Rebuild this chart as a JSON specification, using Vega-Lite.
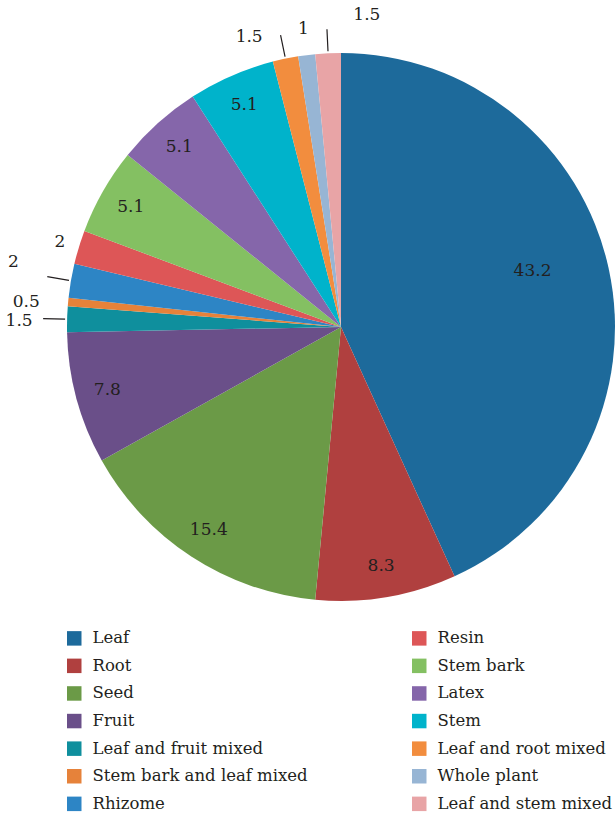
{
  "$schema": "https://vega.github.io/schema/vega-lite/v6.json",
  "width": 550,
  "height": 548,
  "autosize": "none",
  "padding": {"left": 66, "top": 53, "right": 0, "bottom": 217},
  "background": "white",
  "config": {"view": {"stroke": null}, "font": "DejaVu Serif"},
  "data": {
    "values": [
      {"category": "Leaf", "value": 43.2, "order": 1},
      {"category": "Root", "value": 8.3, "order": 2},
      {"category": "Seed", "value": 15.4, "order": 3},
      {"category": "Fruit", "value": 7.8, "order": 4},
      {"category": "Leaf and fruit mixed", "value": 1.5, "order": 5},
      {"category": "Stem bark and leaf mixed", "value": 0.5, "order": 6},
      {"category": "Rhizome", "value": 2, "order": 7},
      {"category": "Resin", "value": 2, "order": 8},
      {"category": "Stem bark", "value": 5.1, "order": 9},
      {"category": "Latex", "value": 5.1, "order": 10},
      {"category": "Stem", "value": 5.1, "order": 11},
      {"category": "Leaf and root mixed", "value": 1.5, "order": 12},
      {"category": "Whole plant", "value": 1, "order": 13},
      {"category": "Leaf and stem mixed", "value": 1.5, "order": 14}
    ]
  },
  "encoding": {
    "theta": {"field": "value", "type": "quantitative", "stack": true},
    "order": {"field": "order", "type": "quantitative", "sort": "ascending"}
  },
  "layer": [
    {
      "mark": {"type": "arc", "radius": 274},
      "encoding": {
        "color": {
          "field": "category",
          "type": "nominal",
          "scale": {
            "domain": ["Leaf", "Root", "Seed", "Fruit", "Leaf and fruit mixed", "Stem bark and leaf mixed", "Rhizome", "Resin", "Stem bark", "Latex", "Stem", "Leaf and root mixed", "Whole plant", "Leaf and stem mixed"],
            "range": ["#1d6a9b", "#b0403f", "#6b9a47", "#6a4f89", "#0f8f9d", "#e6823a", "#2d85c5", "#dd5657", "#84c062", "#8566aa", "#00b3cb", "#f28d3e", "#97b5d4", "#e8a4a6"]
          },
          "legend": {
            "title": null,
            "orient": "none",
            "legendX": 0,
            "legendY": 577,
            "columns": 2,
            "columnPadding": 103,
            "rowPadding": 10.6,
            "symbolType": "square",
            "symbolSize": 210,
            "symbolStrokeWidth": 0,
            "labelFontSize": 16.5,
            "labelFont": "DejaVu Serif",
            "labelColor": "#231f20",
            "labelOffset": 10,
            "labelLimit": 400
          }
        }
      }
    },
    {
      "mark": {"type": "arc", "radius": 276, "radius2": 298, "padAngle": 0.5, "fill": "transparent", "strokeWidth": 1.2},
      "encoding": {
        "stroke": {
          "condition": {"test": "indexof(['Leaf and fruit mixed','Rhizome','Leaf and root mixed','Leaf and stem mixed'], datum.category) >= 0", "value": "#231f20"},
          "value": "transparent"
        }
      }
    },
    {
      "mark": {"type": "text", "radius": 242, "fontSize": 17, "color": "#231f20", "font": "DejaVu Serif"},
      "encoding": {
        "text": {"condition": {"test": "datum.value >= 5 && datum.category != 'Leaf'", "field": "value", "type": "quantitative"}, "value": ""}
      }
    },
    {
      "mark": {"type": "text", "radius": 196, "dy": -14, "fontSize": 17, "color": "#231f20", "font": "DejaVu Serif"},
      "encoding": {
        "text": {"condition": {"test": "datum.category == 'Leaf'", "field": "value", "type": "quantitative"}, "value": ""}
      }
    },
    {
      "mark": {"type": "text", "radius": 300, "dx": -22, "dy": 2, "fontSize": 17, "color": "#231f20", "font": "DejaVu Serif"},
      "encoding": {
        "text": {"condition": {"test": "datum.category == 'Leaf and fruit mixed'", "field": "value", "type": "quantitative"}, "value": ""}
      }
    },
    {
      "mark": {"type": "text", "radius": 300, "dx": -16, "dy": 2, "fontSize": 17, "color": "#231f20", "font": "DejaVu Serif"},
      "encoding": {
        "text": {"condition": {"test": "datum.category == 'Stem bark and leaf mixed'", "field": "value", "type": "quantitative"}, "value": ""}
      }
    },
    {
      "mark": {"type": "text", "radius": 300, "dx": -32, "dy": -14, "fontSize": 17, "color": "#231f20", "font": "DejaVu Serif"},
      "encoding": {
        "text": {"condition": {"test": "datum.category == 'Rhizome'", "field": "value", "type": "quantitative"}, "value": ""}
      }
    },
    {
      "mark": {"type": "text", "radius": 300, "dx": 6, "dy": 2, "fontSize": 17, "color": "#231f20", "font": "DejaVu Serif"},
      "encoding": {
        "text": {"condition": {"test": "datum.category == 'Resin'", "field": "value", "type": "quantitative"}, "value": ""}
      }
    },
    {
      "mark": {"type": "text", "radius": 300, "dx": -31, "dy": 4, "fontSize": 17, "color": "#231f20", "font": "DejaVu Serif"},
      "encoding": {
        "text": {"condition": {"test": "datum.category == 'Leaf and root mixed'", "field": "value", "type": "quantitative"}, "value": ""}
      }
    },
    {
      "mark": {"type": "text", "radius": 300, "fontSize": 17, "color": "#231f20", "font": "DejaVu Serif"},
      "encoding": {
        "text": {"condition": {"test": "datum.category == 'Whole plant'", "field": "value", "type": "quantitative"}, "value": ""}
      }
    },
    {
      "mark": {"type": "text", "radius": 300, "dx": 40, "dy": -12, "fontSize": 17, "color": "#231f20", "font": "DejaVu Serif"},
      "encoding": {
        "text": {"condition": {"test": "datum.category == 'Leaf and stem mixed'", "field": "value", "type": "quantitative"}, "value": ""}
      }
    }
  ]
}
